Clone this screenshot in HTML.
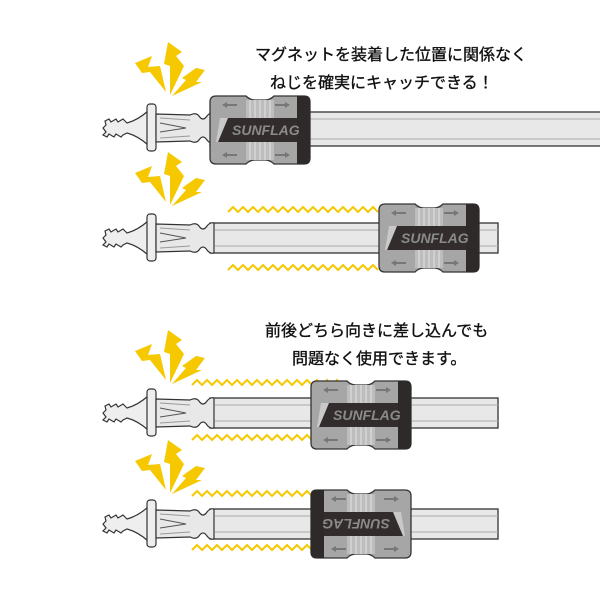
<!DOCTYPE html>
<html><head><meta charset="utf-8"><style>
html,body{margin:0;padding:0;background:#fff;width:600px;height:600px;overflow:hidden}
svg{display:block}
.t{font-family:"Liberation Sans","Noto Sans CJK JP",sans-serif;font-size:16px;fill:#111;stroke:#111;stroke-width:0.35}
.logo{font-family:"Liberation Sans",sans-serif;font-style:italic;font-weight:bold;font-size:14px;fill:#8a8a8a}
</style></head><body>
<svg width="600" height="600" viewBox="0 0 600 600" xmlns="http://www.w3.org/2000/svg">
<defs>
<g id="bit">
  <path d="M105,-7 l4,-2 2,3 5,-3 2,3 5,-3 2,2 L127,-5 Q138,-8 148,-17 L148,17 Q138,8 127,5 L123,7 l-2,2 -5,-3 -2,3 -5,-3 -2,3 -4,-2 3,-3 -3,-4 3,-3 z" fill="#eee" stroke="#333" stroke-width="1.2"/>
  <rect x="147" y="-24" width="9" height="47" rx="3" fill="#eee" stroke="#333" stroke-width="1.2"/>
  <path d="M156,-14 L190,-13 Q196,-16 199,-12 Q203,-6 207,-12 Q210,-16 214,-15 L214,15 Q210,16 207,12 Q203,6 199,12 Q196,16 190,13 L156,14 z" fill="#e8e8e8" stroke="#333" stroke-width="1.2"/>
  <path d="M160,-5 L186,0 L160,4" fill="none" stroke="#555" stroke-width="1"/>
  <path d="M160,-10 L190,-8 M160,10 L190,8" stroke="#999" stroke-width="1"/>
</g>
<g id="holder">
  <path d="M6,0 H36 Q40,4 45,4 H55 Q60,4 64,0 H94 Q100,0 100,6 V62 Q100,68 94,68 H64 Q60,64 55,64 H45 Q40,64 36,68 H6 Q0,68 0,62 V6 Q0,0 6,0 z" fill="#a6a6a6" stroke="#333" stroke-width="1.3"/>
  <rect x="36" y="4" width="28" height="60" fill="#bdbdbd"/>
  <path d="M40,4 V64 M45,4 V64 M50,4 V64 M55,4 V64 M60,4 V64" stroke="#d6d6d6" stroke-width="1.5"/>
  <path d="M10,22 H96 V46 H6 z" fill="#c9c9c9"/>
  <path d="M18,22 H96 V46 H8 z" fill="#332c2c"/>
  <rect x="87" y="0" width="13" height="68" rx="4" fill="#2f2a2a"/>
  <rect x="87" y="0" width="6" height="68" fill="#2f2a2a"/>
  <path d="M12,9 l5,-3 v2 h10 v2 h-10 v2 z M80,9 l-5,-3 v2 h-10 v2 h10 v2 z M12,59 l5,-3 v2 h10 v2 h-10 v2 z M80,59 l-5,-3 v2 h-10 v2 h10 v2 z" fill="#777"/>
</g>
<g id="bolts">
  <path d="M0,21 L17,14 L13,25 L25,24 L31,50 L15,30 L7,31 Z" fill="#f5c800"/>
  <path d="M33,0 L47,10 L41,14 L49,24 L35,53 L35,24 L29,22 Z" fill="#f5c800"/>
  <path d="M70,28 L61,40 L67,40 L37,54 L51,38 L47,36 L61,26 Z" fill="#f5c800"/>
</g>
<path id="zz" d="M0,0 l5,-5 l5,5 l5,-5 l5,5 l5,-5 l5,5 l5,-5 l5,5 l5,-5 l5,5 l5,-5 l5,5 l5,-5 l5,5 l5,-5 l5,5 l5,-5 l5,5 l5,-5 l5,5 l5,-5 l5,5 l5,-5 l5,5 l5,-5 l5,5 l5,-5 l5,5 l5,-5 l5,5" fill="none" stroke="#f5c800" stroke-width="2"/>
</defs>

<text class="t" x="255" y="60">マグネットを装着した位置に関係なく</text>
<text class="t" x="270" y="88">ねじを確実にキャッチできる！</text>
<text class="t" x="265" y="336">前後どちら向きに差し込んでも</text>
<text class="t" x="292" y="364">問題なく使用できます。</text>

<!-- row 1 -->
<use href="#bolts" x="135" y="42"/>
<g transform="translate(0,128)">
  <rect x="210" y="-16" width="392" height="34" fill="#e8e8e8" stroke="#333" stroke-width="1.3"/>
  <path d="M215,-9 H600 M215,11 H600" stroke="#aaa"/>
  <use href="#bit"/>
</g>
<use href="#holder" x="210" y="96"/>
<text class="logo" x="232" y="135">SUNFLAG</text>

<!-- row 2 -->
<use href="#bolts" x="135" y="152"/>
<use href="#zz" x="228" y="212"/>
<use href="#zz" x="228" y="270"/>
<g transform="translate(0,238)">
  <rect x="210" y="-15" width="288" height="30" fill="#e8e8e8" stroke="#333" stroke-width="1.3"/>
  <path d="M215,-8 H498 M215,8 H498" stroke="#aaa"/>
  <use href="#bit"/>
</g>
<use href="#holder" x="379" y="204"/>
<text class="logo" x="401" y="243">SUNFLAG</text>

<!-- row 3 -->
<use href="#bolts" x="135" y="330"/>
<use href="#zz" x="192" y="385"/>
<use href="#zz" x="192" y="440"/>
<g transform="translate(0,413)">
  <rect x="210" y="-15" width="288" height="30" fill="#e8e8e8" stroke="#333" stroke-width="1.3"/>
  <path d="M215,-8 H498 M215,8 H498" stroke="#aaa"/>
  <use href="#bit"/>
</g>
<use href="#holder" x="311" y="381"/>
<text class="logo" x="333" y="420">SUNFLAG</text>

<!-- row 4 -->
<use href="#bolts" x="135" y="440"/>
<use href="#zz" x="192" y="496"/>
<use href="#zz" x="192" y="550"/>
<g transform="translate(0,524)">
  <rect x="210" y="-15" width="288" height="30" fill="#e8e8e8" stroke="#333" stroke-width="1.3"/>
  <path d="M215,-8 H498 M215,8 H498" stroke="#aaa"/>
  <use href="#bit"/>
</g>
<g transform="translate(411,490) scale(-1,1)"><use href="#holder"/></g>
<text class="logo" x="0" y="0" transform="translate(390,519) rotate(180)">SUNFLAG</text>
</svg>
</body></html>
